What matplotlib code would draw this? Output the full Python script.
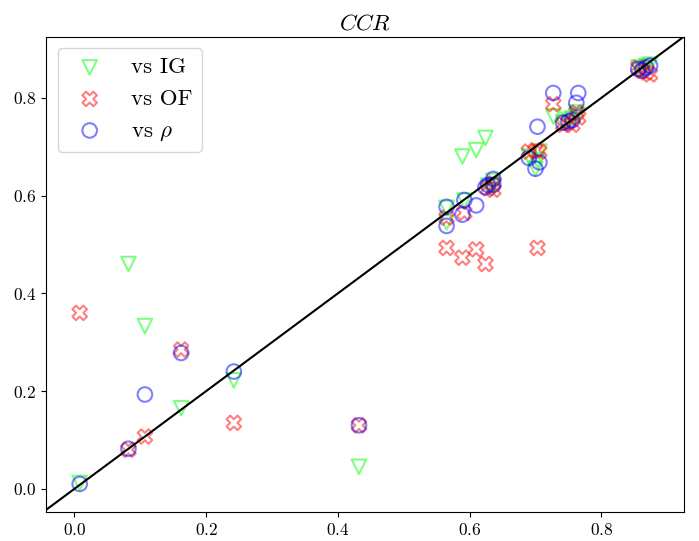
import numpy as np
import matplotlib
matplotlib.use("Agg")
import matplotlib.pyplot as plt

plt.rcParams['font.family'] = 'cmr10'
plt.rcParams['mathtext.fontset'] = 'cm'
plt.rcParams['axes.formatter.use_mathtext'] = True
plt.rcParams['axes.unicode_minus'] = False

# reference CCR (x) against CCR of each comparison
ccr = [0.008, 0.082, 0.107, 0.162, 0.242, 0.432,
       0.565, 0.565, 0.589, 0.592, 0.610, 0.624, 0.628, 0.636, 0.636,
       0.690, 0.700, 0.703, 0.706, 0.727, 0.742, 0.750, 0.756, 0.762, 0.765,
       0.856, 0.862, 0.868, 0.874]
vs_ig = [0.012, 0.460, 0.333, 0.165, 0.222, 0.045,
         0.575, 0.545, 0.680, 0.590, 0.693, 0.718, 0.620, 0.630, 0.620,
         0.680, 0.655, 0.672, 0.690, 0.762, 0.750, 0.755, 0.758, 0.770, 0.765,
         0.862, 0.858, 0.865, 0.868]
vs_of = [0.360, 0.080, 0.107, 0.285, 0.135, 0.130,
         0.493, 0.555, 0.473, 0.565, 0.490, 0.460, 0.615, 0.612, 0.625,
         0.690, 0.693, 0.493, 0.690, 0.787, 0.745, 0.750, 0.745, 0.770, 0.760,
         0.862, 0.855, 0.852, 0.848]
vs_rho = [0.010, 0.082, 0.193, 0.278, 0.240, 0.130,
          0.577, 0.538, 0.561, 0.591, 0.580, 0.617, 0.622, 0.634, 0.622,
          0.677, 0.655, 0.741, 0.668, 0.810, 0.749, 0.752, 0.755, 0.790, 0.810,
          0.859, 0.856, 0.862, 0.866]

fig, ax = plt.subplots(figsize=(6.99, 5.41), dpi=100)
ax.scatter(ccr, vs_ig, s=110, marker='v', facecolors='none', edgecolors='lime',
           alpha=0.5, linewidths=1.5, label=r'vs IG')
ax.scatter(ccr, vs_of, s=110, marker='X', facecolors='none', edgecolors='red',
           alpha=0.5, linewidths=1.5, label=r'vs OF')
ax.scatter(ccr, vs_rho, s=110, marker='o', facecolors='none', edgecolors='blue',
           alpha=0.5, linewidths=1.5, label=r'vs $\rho$')

lo, hi = -0.043, 0.926
ax.plot([lo, hi], [lo, hi], color='black', lw=1.5)
ax.set_xlim(lo, hi)
ax.set_ylim(-0.047, 0.925)
ax.set_xticks([0.0, 0.2, 0.4, 0.6, 0.8])
ax.set_yticks([0.0, 0.2, 0.4, 0.6, 0.8])
ax.tick_params(labelsize=12.5)
ax.set_title(r'$CCR$', fontsize=16.5, pad=5)
ax.legend(loc='upper left', fontsize=16.5)

fig.subplots_adjust(left=0.066, right=0.979, top=0.932, bottom=0.054)
fig.savefig('out.png')
